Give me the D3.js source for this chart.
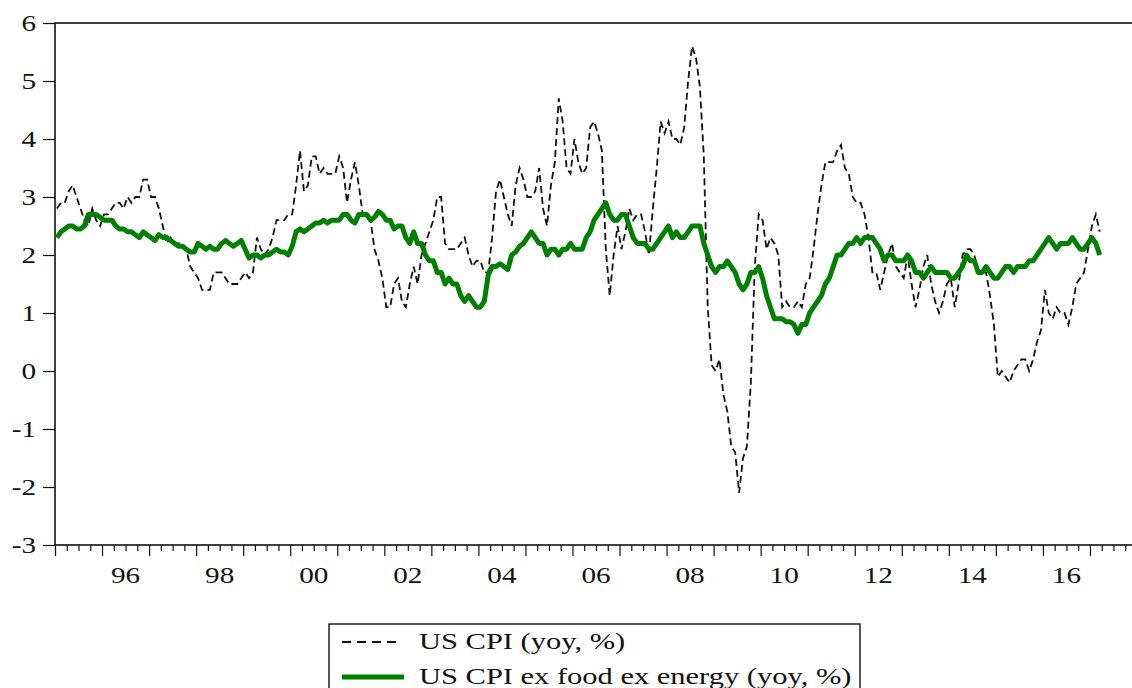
<!DOCTYPE html>
<html lang="en">
<head>
<meta charset="UTF-8">
<title>US CPI</title>
<script src="https://d3js.org/d3.v7.min.js"></script>
<style>
  body { margin: 0; background: #fff; }
  svg text { font-family: "Liberation Serif", "Times New Roman", serif; fill: #111; }
</style>
</head>
<body>
<svg width="1132" height="688"></svg>
<script>
// monthly data, Jan 1995 .. Mar 2017
var startYear = 1995;

// US CPI (yoy, %)
var cpi = [
  2.8, 2.9, 2.9, 3.1, 3.2, 3.0, 2.8, 2.6, 2.5, 2.8, 2.6, 2.5,
  2.7, 2.7, 2.8, 2.9, 2.9, 2.8, 3.0, 2.9, 3.0, 3.0, 3.3, 3.3,
  3.0, 3.0, 2.8, 2.5, 2.2, 2.3, 2.2, 2.2, 2.2, 2.1, 1.8, 1.7,
  1.6, 1.4, 1.4, 1.4, 1.7, 1.7, 1.7, 1.6, 1.5, 1.5, 1.5, 1.6,
  1.7, 1.6, 1.7, 2.3, 2.1, 2.0, 2.1, 2.3, 2.6, 2.6, 2.6, 2.7,
  2.7, 3.2, 3.8, 3.1, 3.2, 3.7, 3.7, 3.4, 3.5, 3.4, 3.4, 3.4,
  3.7, 3.5, 2.9, 3.3, 3.6, 3.2, 2.7, 2.7, 2.6, 2.1, 1.9, 1.6,
  1.1, 1.1, 1.5, 1.6, 1.2, 1.1, 1.5, 1.8, 1.5, 2.0, 2.2, 2.4,
  2.6, 3.0, 3.0, 2.2, 2.1, 2.1, 2.1, 2.2, 2.3, 2.0, 1.8, 1.9,
  1.9, 1.7, 1.7, 2.3, 3.1, 3.3, 3.0, 2.7, 2.5, 3.2, 3.5, 3.3,
  3.0, 3.0, 3.1, 3.5, 2.8, 2.5, 3.2, 3.6, 4.7, 4.3, 3.5, 3.4,
  4.0, 3.6, 3.4, 3.5, 4.2, 4.3, 4.1, 3.8, 2.1, 1.3, 2.0, 2.5,
  2.1, 2.4, 2.8, 2.6, 2.7, 2.7, 2.4, 2.0, 2.8, 3.5, 4.3, 4.1,
  4.3, 4.0, 4.0, 3.9, 4.2, 5.0, 5.6, 5.4, 4.9, 3.7, 1.1, 0.1,
  0.0, 0.2, -0.4, -0.7, -1.3, -1.4, -2.1, -1.5, -1.3, -0.2, 1.8, 2.7,
  2.6, 2.1, 2.3, 2.2, 2.0, 1.1, 1.2, 1.1, 1.1, 1.2, 1.1, 1.5,
  1.6, 2.1, 2.7, 3.2, 3.6, 3.6, 3.6, 3.8, 3.9, 3.5, 3.4, 3.0,
  2.9, 2.9, 2.7, 2.3, 1.7, 1.7, 1.4, 1.7, 2.0, 2.2, 1.8, 1.7,
  1.6, 2.0, 1.5, 1.1, 1.4, 1.8, 2.0, 1.5, 1.2, 1.0, 1.2, 1.5,
  1.6, 1.1, 1.5, 2.0, 2.1, 2.1, 2.0, 1.7, 1.7, 1.7, 1.3, 0.8,
  -0.1, 0.0, -0.1, -0.2, 0.0, 0.1, 0.2, 0.2, 0.0, 0.2, 0.5, 0.7,
  1.4, 1.0, 0.9, 1.1, 1.0, 1.0, 0.8, 1.1, 1.5, 1.6, 1.7, 2.1,
  2.5, 2.7, 2.4
];

// US CPI ex food ex energy (yoy, %)
var core = [
  2.3, 2.4, 2.45, 2.5, 2.5, 2.45, 2.45, 2.5, 2.7, 2.7, 2.7, 2.65,
  2.6, 2.6, 2.6, 2.5, 2.45, 2.45, 2.4, 2.4, 2.35, 2.3, 2.4, 2.35,
  2.3, 2.25, 2.35, 2.3, 2.3, 2.25, 2.2, 2.15, 2.15, 2.1, 2.05, 2.05,
  2.2, 2.15, 2.1, 2.15, 2.1, 2.1, 2.2, 2.25, 2.2, 2.15, 2.2, 2.25,
  2.1, 1.95, 2.0, 2.0, 1.95, 2.0, 2.0, 2.05, 2.1, 2.05, 2.05, 2.0,
  2.15, 2.4, 2.45, 2.4, 2.45, 2.5, 2.55, 2.55, 2.6, 2.55, 2.6, 2.6,
  2.6, 2.7, 2.7, 2.6, 2.55, 2.7, 2.7, 2.7, 2.6, 2.65, 2.75, 2.7,
  2.6, 2.6, 2.45, 2.5, 2.5, 2.3, 2.2, 2.4, 2.2, 2.2, 2.0, 1.9,
  1.9, 1.7, 1.7, 1.5, 1.6, 1.5, 1.5, 1.3, 1.2, 1.3, 1.2, 1.1,
  1.1, 1.2, 1.65, 1.8, 1.8, 1.85, 1.8, 1.75, 2.0, 2.05, 2.15, 2.2,
  2.3, 2.4, 2.3, 2.2, 2.2, 2.0, 2.1, 2.1, 2.0, 2.1, 2.1, 2.2,
  2.1, 2.1, 2.1, 2.3, 2.4, 2.6, 2.7, 2.8, 2.9, 2.7, 2.6, 2.6,
  2.7, 2.7, 2.5, 2.3, 2.2, 2.2, 2.2, 2.1, 2.1, 2.2, 2.3, 2.4,
  2.5, 2.3, 2.4, 2.3, 2.3, 2.4, 2.5, 2.5, 2.5, 2.2, 2.0, 1.8,
  1.7, 1.8, 1.8, 1.9, 1.8, 1.7, 1.5, 1.4, 1.5, 1.7, 1.7, 1.8,
  1.6, 1.3, 1.1, 0.9, 0.9, 0.9, 0.85, 0.85, 0.8, 0.65, 0.8, 0.8,
  1.0, 1.1, 1.2, 1.3, 1.5, 1.6, 1.8, 2.0, 2.0, 2.1, 2.2, 2.2,
  2.3, 2.2, 2.3, 2.3, 2.3, 2.2, 2.1, 1.9, 2.0, 2.0, 1.9, 1.9,
  1.9, 2.0, 1.9, 1.7, 1.7, 1.6, 1.7, 1.8, 1.7, 1.7, 1.7, 1.7,
  1.6, 1.6, 1.7, 1.8, 2.0, 1.9, 1.9, 1.7, 1.7, 1.8, 1.7, 1.6,
  1.6, 1.7, 1.8, 1.8, 1.7, 1.8, 1.8, 1.8, 1.9, 1.9, 2.0, 2.1,
  2.2, 2.3, 2.2, 2.1, 2.2, 2.2, 2.2, 2.3, 2.2, 2.1, 2.1, 2.2,
  2.3, 2.2, 2.0
];

var yTicks = [-3, -2, -1, 0, 1, 2, 3, 4, 5, 6];
var yearLabels = ['96', '98', '00', '02', '04', '06', '08', '10', '12', '14', '16'];
var legendNames = ['US CPI (yoy, %)', 'US CPI ex food ex energy (yoy, %)'];

var svg = d3.select('svg');
var pLeft = 55, pRight = 1137, pTop = 23, pBottom = 545;
var fs = 23, sx = 1.27; // text is a bit stretched sideways in the picture

var x = d3.scaleLinear().domain([1995, 2018]).range([pLeft, pRight]);
var y = d3.scaleLinear().domain([-3, 6]).range([pBottom, pTop]);

function t(i) { return startYear + (i + 0.5) / 12; }

// frame
svg.append('rect')
  .attr('x', pLeft).attr('y', pTop)
  .attr('width', pRight - pLeft).attr('height', pBottom - pTop)
  .attr('fill', 'none').attr('stroke', '#111').attr('stroke-width', 1.6);

// y axis
var yAxis = svg.append('g')
  .attr('transform', 'translate(' + pLeft + ',0)')
  .call(d3.axisLeft(y).tickValues(yTicks).tickSize(12).tickFormat(function (d) { return String(d); }));
yAxis.select('.domain').remove();
yAxis.selectAll('line').attr('stroke', '#111').attr('stroke-width', 1.2);
yAxis.selectAll('text')
  .attr('font-size', fs).attr('x', -19 / sx).attr('dy', '0.34em')
  .attr('fill', '#111')
  .attr('transform', 'scale(' + sx + ',1)')
  .attr('font-family', '"Liberation Serif", serif');

// x axis: yearly major ticks, quarterly minor ticks
var years = d3.range(1995, 2019);
var quarters = d3.range(1995, 2018, 0.25).filter(function (d) { return d % 1 !== 0; });
var xMajor = svg.append('g').attr('transform', 'translate(0,' + pBottom + ')')
  .call(d3.axisBottom(x).tickValues(years).tickSize(11).tickFormat(''));
xMajor.select('.domain').remove();
var xMinor = svg.append('g').attr('transform', 'translate(0,' + pBottom + ')')
  .call(d3.axisBottom(x).tickValues(quarters).tickSize(6).tickFormat(''));
xMinor.select('.domain').remove();
svg.selectAll('.tick line').attr('stroke', '#111').attr('stroke-width', 1.2);

// year labels centred on the year
svg.append('g').selectAll('text')
  .data(yearLabels)
  .enter()
  .append('text')
  .attr('font-size', fs)
  .attr('text-anchor', 'middle')
  .attr('transform', function (d, i) {
    return 'translate(' + x(1996 + 2 * i + 0.5) + ',583) scale(' + sx + ',1)';
  })
  .text(function (d) { return d; });

// lines
var line = d3.line()
  .x(function (d, i) { return x(t(i)); })
  .y(function (d) { return y(d); });

svg.append('path')
  .datum(cpi)
  .attr('d', line)
  .attr('fill', 'none')
  .attr('stroke', '#111')
  .attr('stroke-width', 1.8)
  .attr('stroke-dasharray', '7,4');

svg.append('path')
  .datum(core)
  .attr('d', line)
  .attr('fill', 'none')
  .attr('stroke', '#008000')
  .attr('stroke-width', 5)
  .attr('stroke-linejoin', 'round');

// legend
var lg = svg.append('g');
lg.append('rect')
  .attr('x', 329).attr('y', 624).attr('width', 531).attr('height', 80)
  .attr('fill', '#fff').attr('stroke', '#111').attr('stroke-width', 1.4);
lg.append('line')
  .attr('x1', 342).attr('x2', 402).attr('y1', 642).attr('y2', 642)
  .attr('stroke', '#111').attr('stroke-width', 1.8).attr('stroke-dasharray', '9,6');
lg.append('line')
  .attr('x1', 342).attr('x2', 404).attr('y1', 677).attr('y2', 677)
  .attr('stroke', '#008000').attr('stroke-width', 5);
lg.selectAll('text')
  .data(legendNames)
  .enter()
  .append('text')
  .attr('font-size', fs + 1)
  .attr('transform', function (d, i) {
    return 'translate(419,' + (649 + i * 35) + ') scale(' + sx + ',1)';
  })
  .text(function (d) { return d; });
</script>
</body>
</html>
